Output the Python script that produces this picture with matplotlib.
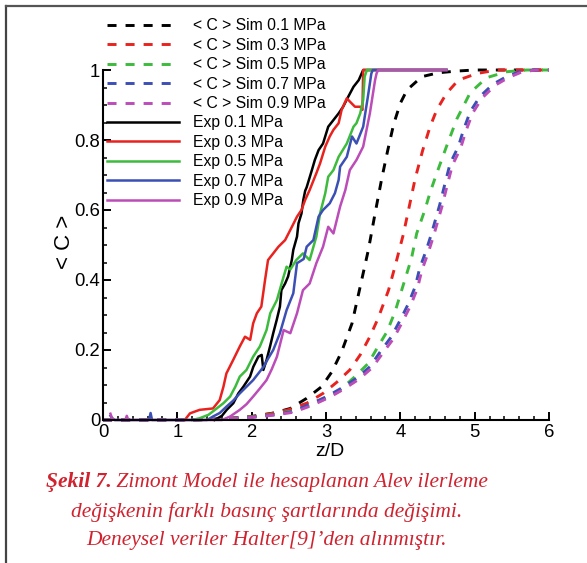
import matplotlib
matplotlib.use("Agg")
import matplotlib.pyplot as plt
from matplotlib.lines import Line2D
from matplotlib.ticker import MultipleLocator, FixedLocator

plt.rcParams['font.family'] = ['Liberation Sans', 'DejaVu Sans']
plt.rcParams['lines.scale_dashes'] = False

# ---------------- data ----------------
sim_labels = ['< C > Sim 0.1 MPa', '< C > Sim 0.3 MPa', '< C > Sim 0.5 MPa',
              '< C > Sim 0.7 MPa', '< C > Sim 0.9 MPa']
exp_labels = ['Exp 0.1 MPa', 'Exp 0.3 MPa', 'Exp 0.5 MPa', 'Exp 0.7 MPa', 'Exp 0.9 MPa']
colors = ['#000000', '#e8231f', '#3dbb3d', '#3b4fb4', '#bb4cb8']

sim01_z = [0, 1.2, 1.6, 2.0, 2.3, 2.52, 2.74, 2.94, 3.08, 3.21, 3.35, 3.46, 3.57, 3.66,
           3.75, 3.83, 3.91, 4.00, 4.09, 4.29, 4.51, 4.76, 5.0, 6.0]
sim01_c = [0, 0, 0.003, 0.01, 0.02, 0.033, 0.062, 0.095, 0.138, 0.195, 0.276, 0.381, 0.486,
           0.59, 0.69, 0.77, 0.845, 0.905, 0.943, 0.981, 0.992, 0.997, 1.0, 1.0]

sim03_z = [0, 1.2, 1.6, 2.0, 2.25, 2.49, 2.74, 2.96, 3.14, 3.32, 3.46, 3.59, 3.70, 3.84,
           3.93, 4.04, 4.11, 4.20, 4.30, 4.40, 4.49, 4.62, 4.78, 5.03, 5.30, 6.0]
sim03_c = [0, 0, 0.003, 0.01, 0.018, 0.029, 0.048, 0.076, 0.107, 0.143, 0.186, 0.238, 0.29,
           0.37, 0.44, 0.53, 0.60, 0.69, 0.77, 0.838, 0.886, 0.933, 0.971, 0.99, 1.0, 1.0]

sim05_z = [0, 1.2, 1.6, 2.0, 2.3, 2.55, 2.8, 3.0, 3.19, 3.39, 3.57, 3.70, 3.82, 3.93, 4.06,
           4.15, 4.22, 4.33, 4.40, 4.49, 4.62, 4.76, 4.94, 5.16, 5.43, 5.7, 6.0]
sim05_c = [0, 0, 0.003, 0.009, 0.016, 0.026, 0.042, 0.062, 0.086, 0.124, 0.162, 0.21, 0.252,
           0.31, 0.40, 0.462, 0.533, 0.60, 0.65, 0.705, 0.781, 0.86, 0.935, 0.978, 0.995, 1.0, 1.0]

sim07_z = [0, 1.2, 1.6, 2.0, 2.3, 2.54, 2.76, 3.01, 3.2, 3.41, 3.59, 3.73, 3.88, 4.0, 4.11,
           4.20, 4.26, 4.35, 4.42, 4.53, 4.60, 4.67, 4.78, 4.85, 4.94, 5.07, 5.25, 5.43,
           5.6, 5.8, 6.0]
sim07_c = [0, 0, 0.003, 0.008, 0.015, 0.024, 0.043, 0.067, 0.09, 0.119, 0.152, 0.195, 0.238,
           0.286, 0.333, 0.381, 0.433, 0.486, 0.533, 0.615, 0.675, 0.733, 0.781, 0.829, 0.881,
           0.924, 0.96, 0.981, 0.995, 1.0, 1.0]

sim09_z = [0, 1.2, 1.6, 2.0, 2.3, 2.56, 2.79, 3.04, 3.23, 3.44, 3.62, 3.76, 3.91, 4.03, 4.14,
           4.23, 4.29, 4.38, 4.45, 4.56, 4.63, 4.70, 4.81, 4.88, 4.97, 5.10, 5.28, 5.46,
           5.63, 5.82, 6.0]
sim09_c = [0, 0, 0.003, 0.007, 0.014, 0.022, 0.04, 0.064, 0.087, 0.116, 0.149, 0.19, 0.233,
           0.281, 0.328, 0.376, 0.428, 0.481, 0.528, 0.61, 0.67, 0.728, 0.776, 0.824, 0.876,
           0.92, 0.957, 0.979, 0.994, 1.0, 1.0]

exp01_z = [1.50, 1.60, 1.664, 1.753, 1.821, 1.888, 1.978, 2.022, 2.09, 2.135, 2.157, 2.20,
           2.247, 2.29, 2.337, 2.38, 2.40, 2.45, 2.49, 2.54, 2.56, 2.61, 2.63, 2.67, 2.695,
           2.72, 2.74, 2.81, 2.85, 2.90, 2.96, 3.03, 3.10, 3.17, 3.23, 3.30, 3.37, 3.44,
           3.50, 4.62]
exp01_c = [0.0, 0.012, 0.029, 0.048, 0.076, 0.095, 0.124, 0.152, 0.181, 0.186, 0.143, 0.171,
           0.21, 0.248, 0.286, 0.324, 0.371, 0.39, 0.41, 0.457, 0.486, 0.524, 0.562, 0.59,
           0.629, 0.655, 0.665, 0.714, 0.743, 0.771, 0.79, 0.838, 0.857, 0.876, 0.895, 0.924,
           0.952, 0.971, 1.0, 1.0]

exp03_z = [1.10, 1.17, 1.30, 1.48, 1.57, 1.62, 1.66, 1.75, 1.84, 1.91, 1.98, 2.02, 2.07,
           2.13, 2.18, 2.22, 2.29, 2.36, 2.45, 2.52, 2.61, 2.67, 2.72, 2.78, 2.87, 2.92,
           2.99, 3.05, 3.10, 3.17, 3.21, 3.28, 3.32, 3.39, 3.46, 3.49, 3.50, 4.62]
exp03_c = [0.0, 0.019, 0.029, 0.033, 0.057, 0.095, 0.133, 0.171, 0.21, 0.238, 0.229, 0.276,
           0.305, 0.324, 0.40, 0.457, 0.476, 0.495, 0.514, 0.543, 0.581, 0.60, 0.629, 0.657,
           0.705, 0.733, 0.781, 0.81, 0.829, 0.848, 0.886, 0.919, 0.91, 0.895, 0.895, 0.886,
           1.0, 1.0]

exp05_z = [1.20, 1.30, 1.42, 1.53, 1.62, 1.71, 1.78, 1.84, 1.93, 2.02, 2.11, 2.20, 2.25,
           2.34, 2.43, 2.47, 2.52, 2.60, 2.69, 2.78, 2.87, 2.92, 2.99, 3.03, 3.10, 3.17,
           3.28, 3.37, 3.41, 3.46, 3.50, 3.52, 3.55, 4.62]
exp05_c = [0.0, 0.005, 0.015, 0.033, 0.048, 0.067, 0.095, 0.124, 0.143, 0.181, 0.21, 0.257,
           0.305, 0.343, 0.41, 0.438, 0.43, 0.457, 0.476, 0.457, 0.524, 0.59, 0.648, 0.695,
           0.714, 0.752, 0.79, 0.838, 0.848, 0.876, 0.914, 0.981, 1.0, 1.0]

exp07_z = [0.10, 0.13, 0.16, 0.40, 0.62, 0.64, 0.66, 1.0, 1.40, 1.48, 1.57, 1.66, 1.75,
           1.84, 1.93, 2.02, 2.09, 2.16, 2.22, 2.29, 2.38, 2.47, 2.56, 2.61, 2.70, 2.74,
           2.83, 2.90, 2.96, 3.05, 3.12, 3.17, 3.19, 3.28, 3.35, 3.41, 3.50, 3.57, 3.61,
           3.63, 4.62]
exp07_c = [0.012, 0.004, 0.0, 0.0, 0.0, 0.02, 0.0, 0.0, 0.0, 0.01, 0.02, 0.038, 0.055,
           0.076, 0.095, 0.114, 0.133, 0.152, 0.175, 0.2, 0.248, 0.314, 0.362, 0.448, 0.46,
           0.495, 0.514, 0.581, 0.6, 0.619, 0.648, 0.686, 0.724, 0.752, 0.81, 0.79, 0.838,
           0.933, 0.99, 1.0, 1.0]

exp09_z = [0.10, 0.12, 0.15, 0.30, 0.32, 0.34, 0.60, 1.0, 1.60, 1.71, 1.84, 1.93, 2.02,
           2.11, 2.20, 2.27, 2.34, 2.43, 2.52, 2.61, 2.69, 2.78, 2.87, 2.96, 3.03, 3.10,
           3.19, 3.26, 3.32, 3.41, 3.50, 3.59, 3.66, 3.68, 3.70, 4.62]
exp09_c = [0.018, 0.006, 0.0, 0.0, 0.012, 0.0, 0.0, 0.0, 0.0, 0.01, 0.029, 0.045, 0.067,
           0.09, 0.114, 0.145, 0.181, 0.257, 0.248, 0.305, 0.371, 0.39, 0.448, 0.495, 0.552,
           0.533, 0.61, 0.657, 0.714, 0.743, 0.781, 0.876, 0.971, 0.99, 1.0, 1.0]

sim_z = [sim01_z, sim03_z, sim05_z, sim07_z, sim09_z]
sim_c = [sim01_c, sim03_c, sim05_c, sim07_c, sim09_c]
exp_z = [exp01_z, exp03_z, exp05_z, exp07_z, exp09_z]
exp_c = [exp01_c, exp03_c, exp05_c, exp07_c, exp09_c]

xticks = [0, 1, 2, 3, 4, 5, 6]
yticks = [0, 0.2, 0.4, 0.6, 0.8, 1.0]
ytick_labels = ['0', '0.2', '0.4', '0.6', '0.8', '1']

caption_bold = 'Şekil 7.'
caption_line1 = ' Zimont Model ile hesaplanan Alev ilerleme'
caption_line2 = 'değişkenin farklı basınç şartlarında değişimi.'
caption_line3 = 'Deneysel veriler Halter[9]’den alınmıştır.'

# ---------------- figure ----------------
W, H = 587, 563
fig = plt.figure(figsize=(W / 100, H / 100), dpi=100)
x0_px, x6_px, y0_px, y1_px = 103, 549, 420, 70
ymax = 1.05
ax_h = (y0_px - y1_px) * ymax
ax = fig.add_axes([x0_px / W, (H - y0_px) / H, (x6_px - x0_px) / W, ax_h / H])
ax.set_xlim(0, 6)
ax.set_ylim(0, ymax)

handles = []
for z, c, col, lab in zip(sim_z, sim_c, colors, sim_labels):
    h, = ax.plot(z, c, color=col, lw=2.1, linestyle=(0, (6.5, 6.5)), label=lab,
                 clip_on=False, zorder=2)
    handles.append(h)
for z, c, col, lab in zip(exp_z, exp_c, colors, exp_labels):
    h, = ax.plot(z, c, color=col, lw=1.8, label=lab, clip_on=False, zorder=3)
    handles.append(h)

for s in ['top', 'right']:
    ax.spines[s].set_visible(False)
ax.spines['left'].set_bounds(0, 1)
for s in ['left', 'bottom']:
    ax.spines[s].set_linewidth(1.5)
    ax.spines[s].set_zorder(5)

ax.xaxis.set_major_locator(FixedLocator(xticks))
ax.xaxis.set_minor_locator(MultipleLocator(0.2))
ax.yaxis.set_major_locator(FixedLocator(yticks))
ax.yaxis.set_minor_locator(FixedLocator([i * 0.05 for i in range(21)]))
ax.set_yticklabels(ytick_labels)
ax.set_xticklabels([str(v) for v in xticks])
ax.tick_params(which='major', direction='in', length=6, width=1.4, labelsize=13.3, pad=2.0)
ax.tick_params(axis='x', which='major', pad=3.2)
ax.tick_params(which='minor', direction='in', length=3, width=1.1)

fig.text(65 / W, 1 - 242 / H, '< C >', rotation=90, ha='center', va='center', fontsize=16)
fig.text(330 / W, 1 - 452 / H, 'z/D', ha='center', va='center', fontsize=14)

leg = fig.legend(handles=handles, loc='upper left', bbox_to_anchor=(107 / W, 1 - 18.5 / H),
                 bbox_transform=fig.transFigure, frameon=False, fontsize=11.3,
                 handlelength=4.6, handletextpad=0.85, labelspacing=0.28,
                 borderpad=0, borderaxespad=0)

# border lines of the figure panel
fig.add_artist(Line2D([6 / W, 6 / W], [0, 1 - 6 / H], transform=fig.transFigure,
                      color='#444444', lw=1.6))
fig.add_artist(Line2D([6 / W, 1], [1 - 6 / H, 1 - 6 / H], transform=fig.transFigure,
                      color='#555555', lw=1.6))

# caption
cap_col = '#d0222f'
cap_kw = dict(family=['Liberation Serif', 'DejaVu Serif'], style='italic', fontsize=15.5,
              color=cap_col, va='center')
renderer = fig.canvas.get_renderer()
tb = fig.text(0, 1 - 482 / H, caption_bold, weight='bold', ha='left', **cap_kw)
tr = fig.text(0, 1 - 482 / H, caption_line1, ha='left', **cap_kw)
wb = tb.get_window_extent(renderer).width
wr = tr.get_window_extent(renderer).width
cx = 267
start = cx - (wb + wr) / 2
tb.set_x(start / W)
tr.set_x((start + wb) / W)
fig.text(cx / W, 1 - 512 / H, caption_line2, ha='center', **cap_kw)
fig.text(cx / W, 1 - 541 / H, caption_line3, ha='center', **cap_kw)

fig.savefig('out.png', dpi=100)
